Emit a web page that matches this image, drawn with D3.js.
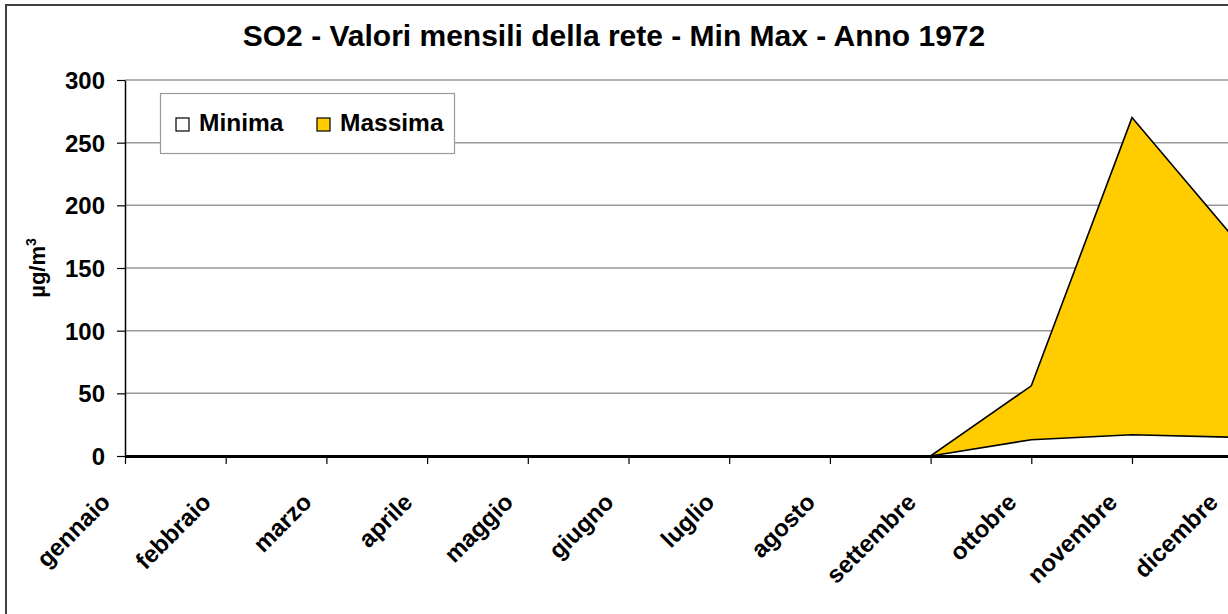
<!DOCTYPE html>
<html>
<head>
<meta charset="utf-8">
<script src="https://cdn.jsdelivr.net/npm/d3@7"></script>
<style>
  body { margin: 0; background: #fff; }
  svg { display: block; font-family: Arial, "Liberation Sans", sans-serif; font-weight: bold; }
</style>
</head>
<body>
<div id="chart"></div>
<script>
        /* chart data */
        var mesi = ["gennaio", "febbraio", "marzo", "aprile", "maggio", "giugno",
                    "luglio", "agosto", "settembre", "ottobre", "novembre", "dicembre"];
        var minima  = [0, 0, 0, 0, 0, 0, 0, 0, 0, 13, 17, 15];
        var massima = [0, 0, 0, 0, 0, 0, 0, 0, 0, 56, 270, 175];
        var yTicks = [0, 50, 100, 150, 200, 250, 300];
        var titolo = "SO2 - Valori mensili della rete - Min Max - Anno 1972";

        var W = 1228, H = 614;
        var plotLeft = 125, plotTop = 80, plotBottom = 456;
        var step = 100.7;

        var svg = d3.select("#chart").append("svg")
            .attr("width", W)
            .attr("height", H);

        // outer frame (chart area border, runs off the picture)
        svg.append("rect")
            .attr("x", 6).attr("y", 5)
            .attr("width", W + 20).attr("height", H + 20)
            .attr("fill", "#fff")
            .attr("stroke", "#404040")
            .attr("stroke-width", 2);

        var x = d3.scalePoint()
            .domain(mesi)
            .range([plotLeft, plotLeft + step * (mesi.length - 1)]);

        var y = d3.scaleLinear()
            .domain([0, 300])
            .range([plotBottom, plotTop]);

        // gridlines
        svg.append("g").selectAll("line")
            .data(yTicks.filter(function(d){ return d > 0; }))
            .enter().append("line")
            .attr("x1", plotLeft).attr("x2", W + 10)
            .attr("y1", function(d){ return y(d); })
            .attr("y2", function(d){ return y(d); })
            .attr("stroke", "#9a9a9a")
            .attr("stroke-width", 1.5);

        var data = mesi.map(function(m, i){ return {m: m, lo: minima[i], hi: massima[i]}; });

        // Massima band (yellow) between min and max
        var bandArea = d3.area()
            .x(function(d){ return x(d.m); })
            .y0(function(d){ return y(d.lo); })
            .y1(function(d){ return y(d.hi); });
        svg.append("path")
            .datum(data)
            .attr("d", bandArea)
            .attr("fill", "#ffcc00");

        // Minima area (white)
        var minArea = d3.area()
            .x(function(d){ return x(d.m); })
            .y0(y(0))
            .y1(function(d){ return y(d.lo); });
        svg.append("path")
            .datum(data)
            .attr("d", minArea)
            .attr("fill", "#fff");

        var lineMin = d3.line().x(function(d){ return x(d.m); }).y(function(d){ return y(d.lo); });
        var lineMax = d3.line().x(function(d){ return x(d.m); }).y(function(d){ return y(d.hi); });
        svg.append("path").datum(data).attr("d", lineMax)
            .attr("fill", "none").attr("stroke", "#000").attr("stroke-width", 1.6);
        svg.append("path").datum(data).attr("d", lineMin)
            .attr("fill", "none").attr("stroke", "#000").attr("stroke-width", 1.6);

        // y axis
        var yAxis = d3.axisLeft(y).tickValues(yTicks).tickSize(8).tickSizeOuter(0).tickPadding(12);
        var gy = svg.append("g").attr("transform", "translate(" + plotLeft + ",0)").call(yAxis);
        gy.select(".domain").attr("stroke", "#000").attr("stroke-width", 1.5);
        gy.selectAll(".tick line").attr("stroke", "#000").attr("stroke-width", 1.2);
        gy.selectAll("text")
            .attr("font-size", 24)
            .attr("font-weight", "bold")
            .attr("font-family", "Arial, 'Liberation Sans', sans-serif")
            .attr("fill", "#000")
            .attr("dy", "0.36em");

        // x axis
        var xAxis = d3.axisBottom(x).tickSize(8).tickSizeOuter(0).tickFormat("");
        var gx = svg.append("g").attr("transform", "translate(0," + plotBottom + ")").call(xAxis);
        gx.select(".domain").attr("stroke", "#000").attr("stroke-width", 3);
        gx.selectAll(".tick line").attr("stroke", "#000").attr("stroke-width", 1.2);

        svg.append("g").selectAll("text")
            .data(mesi)
            .enter().append("text")
            .attr("transform", function(d){ return "translate(" + (x(d) - 26) + ",491) rotate(-45)"; })
            .attr("text-anchor", "end")
            .attr("dy", "0.75em")
            .attr("font-size", 24)
            .text(function(d){ return d; });

        // title
        svg.append("text")
            .attr("x", 614).attr("y", 46)
            .attr("text-anchor", "middle")
            .attr("font-size", 30)
            .text(titolo);

        // y axis title
        var yt = svg.append("text")
            .attr("transform", "translate(45," + ((plotTop + plotBottom) / 2) + ") rotate(-90)")
            .attr("text-anchor", "middle")
            .attr("font-size", 22);
        yt.append("tspan").text("\u00b5g/m");
        yt.append("tspan").attr("font-size", 14).attr("dy", -9).text("3");

        // legend
        var lg = svg.append("g");
        lg.append("rect")
            .attr("x", 160.5).attr("y", 93.5)
            .attr("width", 294).attr("height", 60)
            .attr("fill", "#fff")
            .attr("stroke", "#9a9a9a")
            .attr("stroke-width", 1.2);
        var items = [{name: "Minima", color: "#fff", x: 176}, {name: "Massima", color: "#ffcc00", x: 317}];
        items.forEach(function(it){
            lg.append("rect")
                .attr("x", it.x).attr("y", 118)
                .attr("width", 13).attr("height", 13)
                .attr("fill", it.color)
                .attr("stroke", "#000")
                .attr("stroke-width", 1.2);
            lg.append("text")
                .attr("x", it.x + 23).attr("y", 131)
                .attr("font-size", 24.5)
                .text(it.name);
        });
</script>
</body>
</html>
